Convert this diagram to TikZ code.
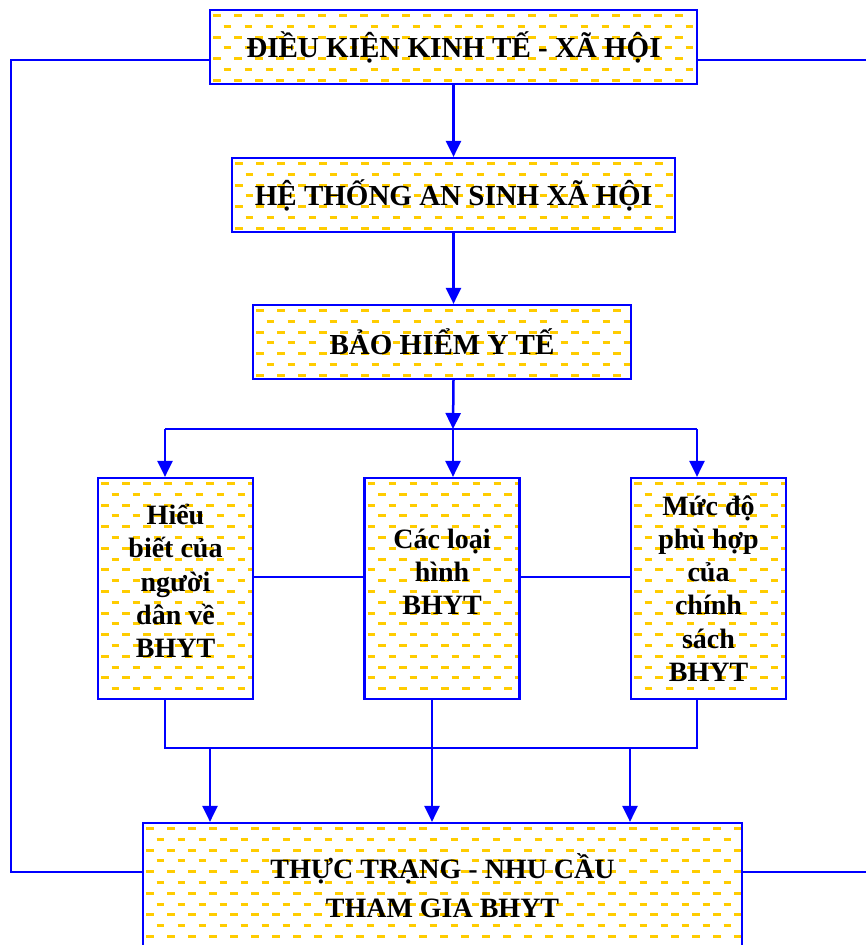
\documentclass[tikz,border=0pt]{standalone}
\usepackage{fontspec}
\setmainfont{Liberation Serif}
\usetikzlibrary{positioning,calc,arrows.meta}

\definecolor{lineblue}{RGB}{0,0,255}
\definecolor{dashgold}{RGB}{255,204,0}

\begin{document}
\begin{tikzpicture}[x=1pt, y=-1pt,
    hatch/.style={path picture={
        \foreach \r in {0,...,20}{
          \pgfmathsetmacro\ph{mod(\r,2)*10.5}
          \draw[dashgold, line width=3pt, dash pattern=on 7.5pt off 13.5pt, dash phase=\ph pt]
            ($(path picture bounding box.north west)+(3,5.5+10.8*\r)$) --
            ($(path picture bounding box.north east)+(0,5.5+10.8*\r)$);
        }}},
    box/.style={rectangle, draw=lineblue, line width=2.2pt, fill=white, hatch, inner sep=0pt, align=center},
    headbox/.style={box, minimum height=74pt, font=\fontsize{29}{35}\selectfont\bfseries},
    smallbox/.style={box, minimum width=155pt, minimum height=221pt, font=\fontsize{28}{33.3}\selectfont\bfseries},
    link/.style={draw=lineblue, line width=2.5pt},
    arr/.style={link, -{Triangle[length=16pt, width=15pt]}}]

    \clip (0,0) rectangle (866,945);

    % main chain
    \node[headbox, minimum width=487pt] (dk) at (453.5,47) {ĐIỀU KIỆN KINH TẾ - XÃ HỘI};
    \node[headbox, minimum width=443pt, below of=dk, node distance=148pt] (ht) {HỆ THỐNG AN SINH XÃ HỘI};
    \node[headbox, minimum width=378pt] (bh) at (442,342) {BẢO HIỂM Y TẾ};

    % three factors
    \node[smallbox] (hb) at (175.5,588.5) {Hiểu\\ biết của\\ người\\ dân về\\ BHYT\\[-18pt]~};
    \node[smallbox, right of=hb, node distance=266.5pt] (lh) {Các loại\\ hình\\ BHYT\\ ~};
    \node[smallbox, right of=lh, node distance=266.5pt] (mp) {Mức độ\\ phù hợp\\ của\\ chính\\ sách\\ BHYT};

    \node[box, minimum width=599pt, minimum height=126pt, font=\fontsize{28}{39}\selectfont\bfseries] (tt) at (442.5,886) {THỰC TRẠNG - NHU CẦU\\ THAM GIA BHYT};

    % junctions
    \coordinate (brl) at (165,429);
    \coordinate (br) at (453,429);
    \coordinate (brr) at (697,429);
    \coordinate (mid) at (0,577);
    \coordinate (jl) at (165,748);
    \coordinate (jr) at (697,748);
    \coordinate (ja) at (210,748);
    \coordinate (jm) at (432,748);
    \coordinate (jb) at (630,748);
    \coordinate (fbt) at (11,60);
    \coordinate (fbb) at (11,872);
    \coordinate (rt) at (866,60);
    \coordinate (rb) at (866,872);

    \draw[arr] (dk) -- (ht);
    \draw[arr] (ht.south) -- (ht.south |- bh.north);
    \draw[arr] (ht.south |- bh.south) -- (br);
    \draw[link] (brl) -- (brr);
    \draw[arr] (brl) -- (brl |- hb.north);
    \draw[arr] (br) -- (br |- lh.north);
    \draw[arr] (brr) -- (brr |- mp.north);

    \draw[link] (hb.east |- mid) -- (lh.west |- mid);
    \draw[link] (lh.east |- mid) -- (mp.west |- mid);

    \draw[link] (jl |- hb.south) -- (jl) -- (jr) -- (jr |- mp.south);
    \draw[link] (jm |- lh.south) -- (jm);
    \draw[arr] (ja) -- (ja |- tt.north);
    \draw[arr] (jm) -- (jm |- tt.north);
    \draw[arr] (jb) -- (jb |- tt.north);

    % feedback lines
    \draw[link] (dk.west |- fbt) -- (fbt) -- (fbb) -- (tt.west |- fbb);
    \draw[link] (dk.east |- rt) -- (rt);
    \draw[link] (tt.east |- rb) -- (rb);
\end{tikzpicture}
\end{document}
